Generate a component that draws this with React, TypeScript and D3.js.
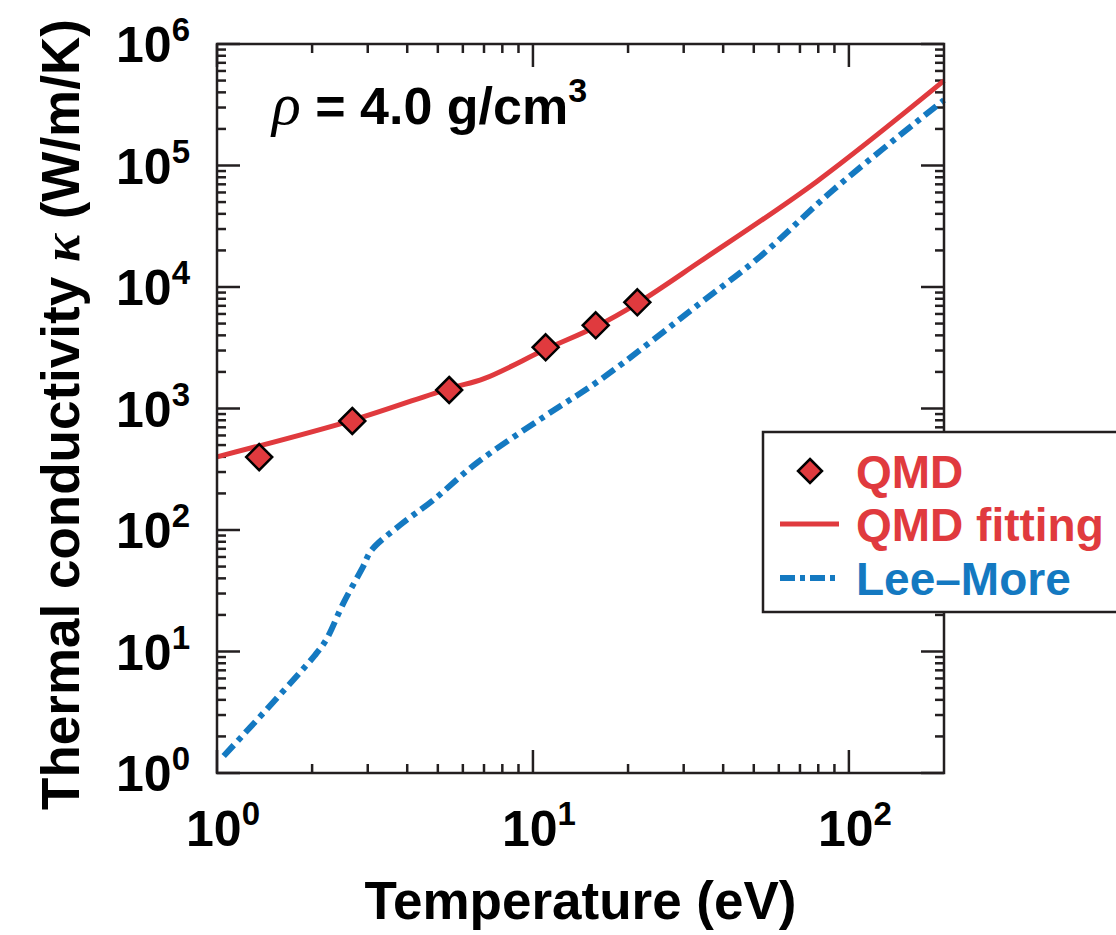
import React from "react";
import * as d3 from "d3";

// Temperature (eV) and conductivity (W/m/K) series
const qmdT = [1.36, 2.68, 5.43, 10.97, 15.8, 21.4];
const qmdK = [398, 789, 1420, 3190, 4840, 7480];

const fitT = [1, 2.68, 5.43, 7, 10.97, 15.8, 21.4, 33.8, 79, 200];
const fitK = [400, 800, 1460, 1760, 3070, 4710, 7340, 16200, 73600, 499000];

const lmT = [1.05, 2.04, 2.22, 2.51, 2.9, 3.08, 3.8, 4.84, 6.63, 11.04, 16.3, 33.8, 52.3, 89.2, 200];
const lmK = [1.38, 9.3, 12.6, 24.9, 50, 68, 110, 176.6, 355, 884, 1717, 7340, 17760, 62900, 346000];

const xDecades = [0, 1, 2];
const yDecades = [0, 1, 2, 3, 4, 5, 6];

const legendItems = ["QMD", "QMD fitting", "Lee\u2013More"];

const RED = "#e03a3e";
const BLUE = "#1479c1";
const INK = "#231f20";
const FONT = "'Liberation Sans', Arial, sans-serif";
const SERIF = "'Liberation Serif', 'Times New Roman', serif";

const W = 1116;
const H = 935;
const left = 217;
const right = 944;
const top = 44;
const bottom = 773;

export default function App() {
  const x = d3.scaleLog().domain([1, 200]).range([left, right]);
  const y = d3.scaleLog().domain([1, 1e6]).range([bottom, top]);

  const smooth = d3
    .line<[number, number]>()
    .x((d) => x(d[0]))
    .y((d) => y(d[1]))
    .curve(d3.curveCatmullRom.alpha(0.5));

  const fitPath = smooth(fitT.map((t, i) => [t, fitK[i]]) as [number, number][]) || "";
  const lmPath = smooth(lmT.map((t, i) => [t, lmK[i]]) as [number, number][]) || "";

  const majorLen = 23;
  const minorLen = 9;

  // minor ticks
  const xMinor: number[] = [];
  for (let d = 0; d < 3; d++) {
    for (let m = 2; m <= 9; m++) {
      const v = m * Math.pow(10, d);
      if (v < 200) xMinor.push(v);
    }
  }
  const yMinor: number[] = [];
  for (let d = 0; d < 6; d++) {
    for (let m = 2; m <= 9; m++) yMinor.push(m * Math.pow(10, d));
  }

  const diamond = (cx: number, cy: number, r: number) =>
    `M${cx},${cy - r}L${cx + r},${cy}L${cx},${cy + r}L${cx - r},${cy}Z`;

  const dash = "15,6,5,6";

  const legX = 763;
  const legY = 432;
  const rowY = [471, 524, 578];

  return (
    <svg
      width={W}
      height={H}
      viewBox={`0 0 ${W} ${H}`}
      style={{ position: "absolute", left: 0, top: 0, background: "#fff" }}
    >
      <rect x={0} y={0} width={W} height={H} fill="#fff" />

      {/* ticks */}
      <g stroke={INK} strokeWidth={2.5}>
        {xDecades.map((d) => {
          const px = x(Math.pow(10, d));
          return (
            <g key={"xm" + d}>
              <line x1={px} x2={px} y1={bottom} y2={bottom - majorLen} />
              <line x1={px} x2={px} y1={top} y2={top + majorLen} />
            </g>
          );
        })}
        {xMinor.map((v) => (
          <g key={"xn" + v}>
            <line x1={x(v)} x2={x(v)} y1={bottom} y2={bottom - minorLen} />
            <line x1={x(v)} x2={x(v)} y1={top} y2={top + minorLen} />
          </g>
        ))}
        {yDecades.map((d) => {
          const py = y(Math.pow(10, d));
          return (
            <g key={"ym" + d}>
              <line x1={left} x2={left + majorLen} y1={py} y2={py} />
              <line x1={right} x2={right - majorLen} y1={py} y2={py} />
            </g>
          );
        })}
        {yMinor.map((v) => (
          <g key={"yn" + v}>
            <line x1={left} x2={left + minorLen} y1={y(v)} y2={y(v)} />
            <line x1={right} x2={right - minorLen} y1={y(v)} y2={y(v)} />
          </g>
        ))}
      </g>

      {/* curves */}
      <path d={lmPath} fill="none" stroke={BLUE} strokeWidth={6} strokeDasharray={dash} />
      <path d={fitPath} fill="none" stroke={RED} strokeWidth={5} />

      {/* QMD points */}
      {qmdT.map((t, i) => (
        <path
          key={"q" + i}
          d={diamond(x(t), y(qmdK[i]), 13)}
          fill={RED}
          stroke="#000"
          strokeWidth={2.5}
        />
      ))}

      {/* frame */}
      <rect
        x={left}
        y={top}
        width={right - left}
        height={bottom - top}
        fill="none"
        stroke={INK}
        strokeWidth={2.5}
      />

      {/* tick labels */}
      <g fontFamily={FONT} fontWeight="bold" fill="#000">
        {yDecades.map((d) => (
          <text key={"yl" + d} x={190} y={y(Math.pow(10, d)) + 18} fontSize={50} textAnchor="end">
            10
            <tspan fontSize={33} dy={-21}>
              {d}
            </tspan>
          </text>
        ))}
        {xDecades.map((d) => (
          <text key={"xl" + d} x={x(Math.pow(10, d)) + 6} y={846} fontSize={50} textAnchor="middle">
            10
            <tspan fontSize={33} dy={-21}>
              {d}
            </tspan>
          </text>
        ))}
      </g>

      {/* axis titles */}
      <text
        x={(left + right) / 2}
        y={919}
        fontFamily={FONT}
        fontWeight="bold"
        fontSize={53}
        textAnchor="middle"
      >
        Temperature (eV)
      </text>
      <text
        transform={`translate(79, ${(top + bottom) / 2 + 6}) rotate(-90)`}
        fontFamily={FONT}
        fontWeight="bold"
        fontSize={53}
        textAnchor="middle"
      >
        Thermal conductivity{" "}
        <tspan fontFamily={SERIF} fontStyle="italic">
          κ
        </tspan>{" "}
        (W/m/K)
      </text>

      {/* density annotation */}
      <text x={272} y={124} fontFamily={FONT} fontWeight="bold" fontSize={52}>
        <tspan fontFamily={SERIF} fontStyle="italic" fontWeight="normal" fontSize={60}>
          ρ
        </tspan>
        {" = 4.0 g/cm"}
        <tspan fontSize={34} dy={-22}>
          3
        </tspan>
      </text>

      {/* legend */}
      <rect
        x={legX}
        y={legY}
        width={400}
        height={180}
        fill="#fff"
        stroke={INK}
        strokeWidth={2.5}
      />
      <path d={diamond(810, rowY[0], 12)} fill={RED} stroke="#000" strokeWidth={2.5} />
      <line x1={780} x2={839} y1={rowY[1]} y2={rowY[1]} stroke={RED} strokeWidth={5} />
      <line
        x1={780}
        x2={839}
        y1={rowY[2]}
        y2={rowY[2]}
        stroke={BLUE}
        strokeWidth={6}
        strokeDasharray="15,5,5,5"
      />
      {legendItems.map((s, i) => (
        <text
          key={s}
          x={856}
          y={rowY[i] + 17}
          fontFamily={FONT}
          fontWeight="bold"
          fontSize={46}
          fill={i === 2 ? BLUE : RED}
        >
          {s}
        </text>
      ))}
    </svg>
  );
}
